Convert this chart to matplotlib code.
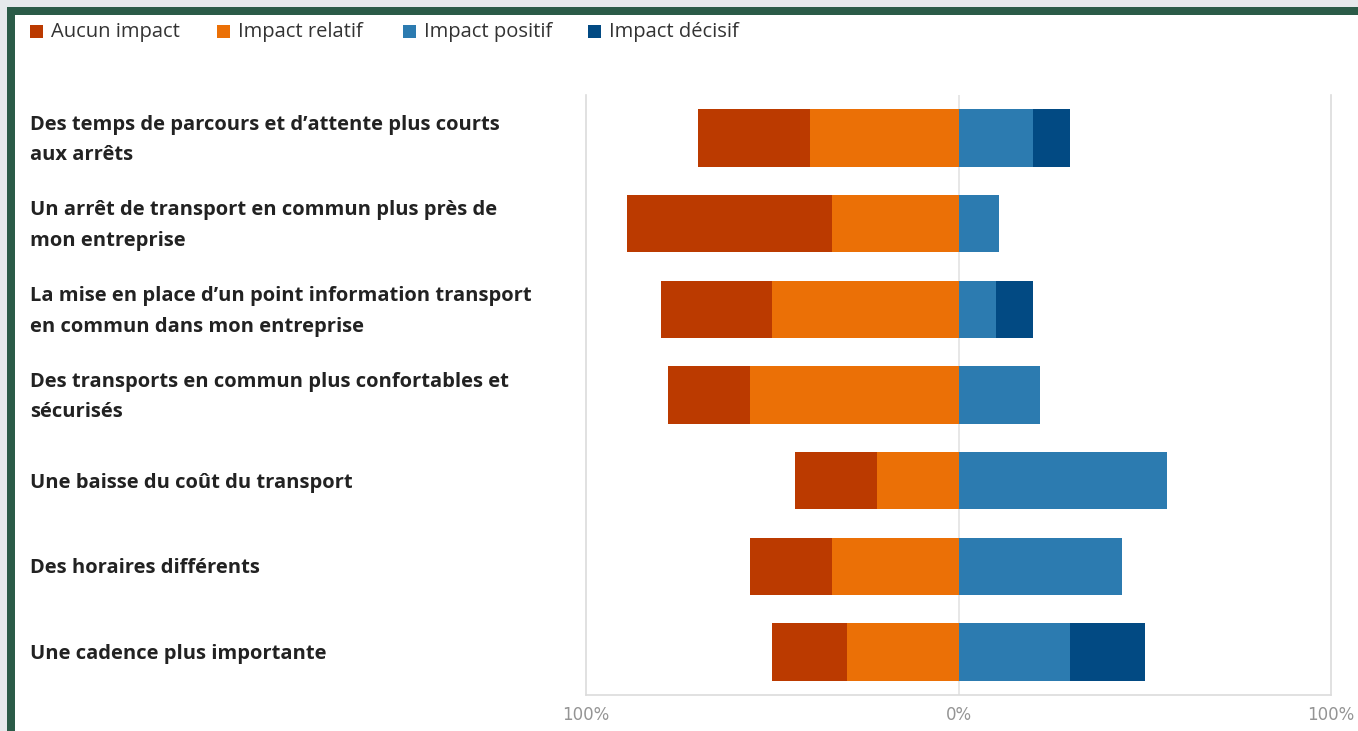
import matplotlib.pyplot as plt
from matplotlib.patches import Rectangle
from matplotlib.transforms import blended_transform_factory, offset_copy

# Data (share of answers, %)
labels = [
    "Des temps de parcours et d\u2019attente plus courts\naux arrêts",
    "Un arrêt de transport en commun plus près de\nmon entreprise",
    "La mise en place d\u2019un point information transport\nen commun dans mon entreprise",
    "Des transports en commun plus confortables et\nsécurisés",
    "Une baisse du coût du transport",
    "Des horaires différents",
    "Une cadence plus importante",
]
aucun = [30, 55, 30, 22, 22, 22, 20]
relatif = [40, 34, 50, 56, 22, 34, 30]
positif = [20, 11, 10, 22, 56, 44, 30]
decisif = [10, 0, 10, 0, 0, 0, 20]

series_names = ["Aucun impact", "Impact relatif", "Impact positif", "Impact décisif"]
colors = ["#bb3a00", "#eb7006", "#2c7bb0", "#024a83"]

W, H = 1358, 731
fig = plt.figure(figsize=(W / 100, H / 100), dpi=100)
fig.patch.set_facecolor("#e6e9ec")

# window frame
fig.patches.append(Rectangle((7 / W, 0), 1, 1 - 7 / H, transform=fig.transFigure,
                             facecolor="#2b5b48", edgecolor="none", zorder=-2))
fig.patches.append(Rectangle((15 / W, 0), 1, 1 - 15 / H, transform=fig.transFigure,
                             facecolor="white", edgecolor="none", zorder=-1))

ax = fig.add_axes([586 / W, 1 - 695 / H, (1331 - 586) / W, (695 - 95) / H])
ax.set_facecolor("none")

y = list(range(len(labels)))
h = 0.67

# negative side: relatif next to zero, aucun further out
ax.barh(y, [-v for v in relatif], height=h, color=colors[1], zorder=3)
ax.barh(y, [-v for v in aucun], left=[-v for v in relatif], height=h, color=colors[0], zorder=3)
# positive side
ax.barh(y, positif, height=h, color=colors[2], zorder=3)
ax.barh(y, decisif, left=positif, height=h, color=colors[3], zorder=3)

ax.set_xlim(-100, 100)
ax.set_ylim(len(labels) - 0.5, -0.5)
ax.axvline(0, color="#e3e3e3", lw=1.2, zorder=1)

for s in ["left", "right", "bottom"]:
    ax.spines[s].set_color("#dcdcdc")
    ax.spines[s].set_linewidth(1.2)
ax.spines["top"].set_visible(False)

ax.set_yticks([])
ax.set_xticks([-100, 0, 100])
ax.set_xticklabels(["100%", "0%", "100%"], color="#949494", fontsize=12)
ax.tick_params(axis="x", length=0, pad=8)

trans = blended_transform_factory(fig.transFigure, ax.transData)
trans = offset_copy(trans, fig=fig, x=0, y=-2, units="dots")
for yi, lab in zip(y, labels):
    ax.text(30 / W, yi, lab, transform=trans, ha="left", va="center",
            fontsize=14.5, fontweight="bold", color="#222222",
            family="Open Sans", linespacing=1.7)

# legend
xs = [30, 217, 403, 588]
for x0, name, c in zip(xs, series_names, colors):
    fig.patches.append(Rectangle((x0 / W, 1 - 38 / H), 13 / W, 13 / H,
                                 transform=fig.transFigure, facecolor=c, edgecolor="none"))
    fig.text((x0 + 21) / W, 1 - 32 / H, name, ha="left", va="center",
             fontsize=14.5, color="#333333", family="Open Sans")

fig.savefig("out.png", dpi=100, facecolor=fig.get_facecolor())
